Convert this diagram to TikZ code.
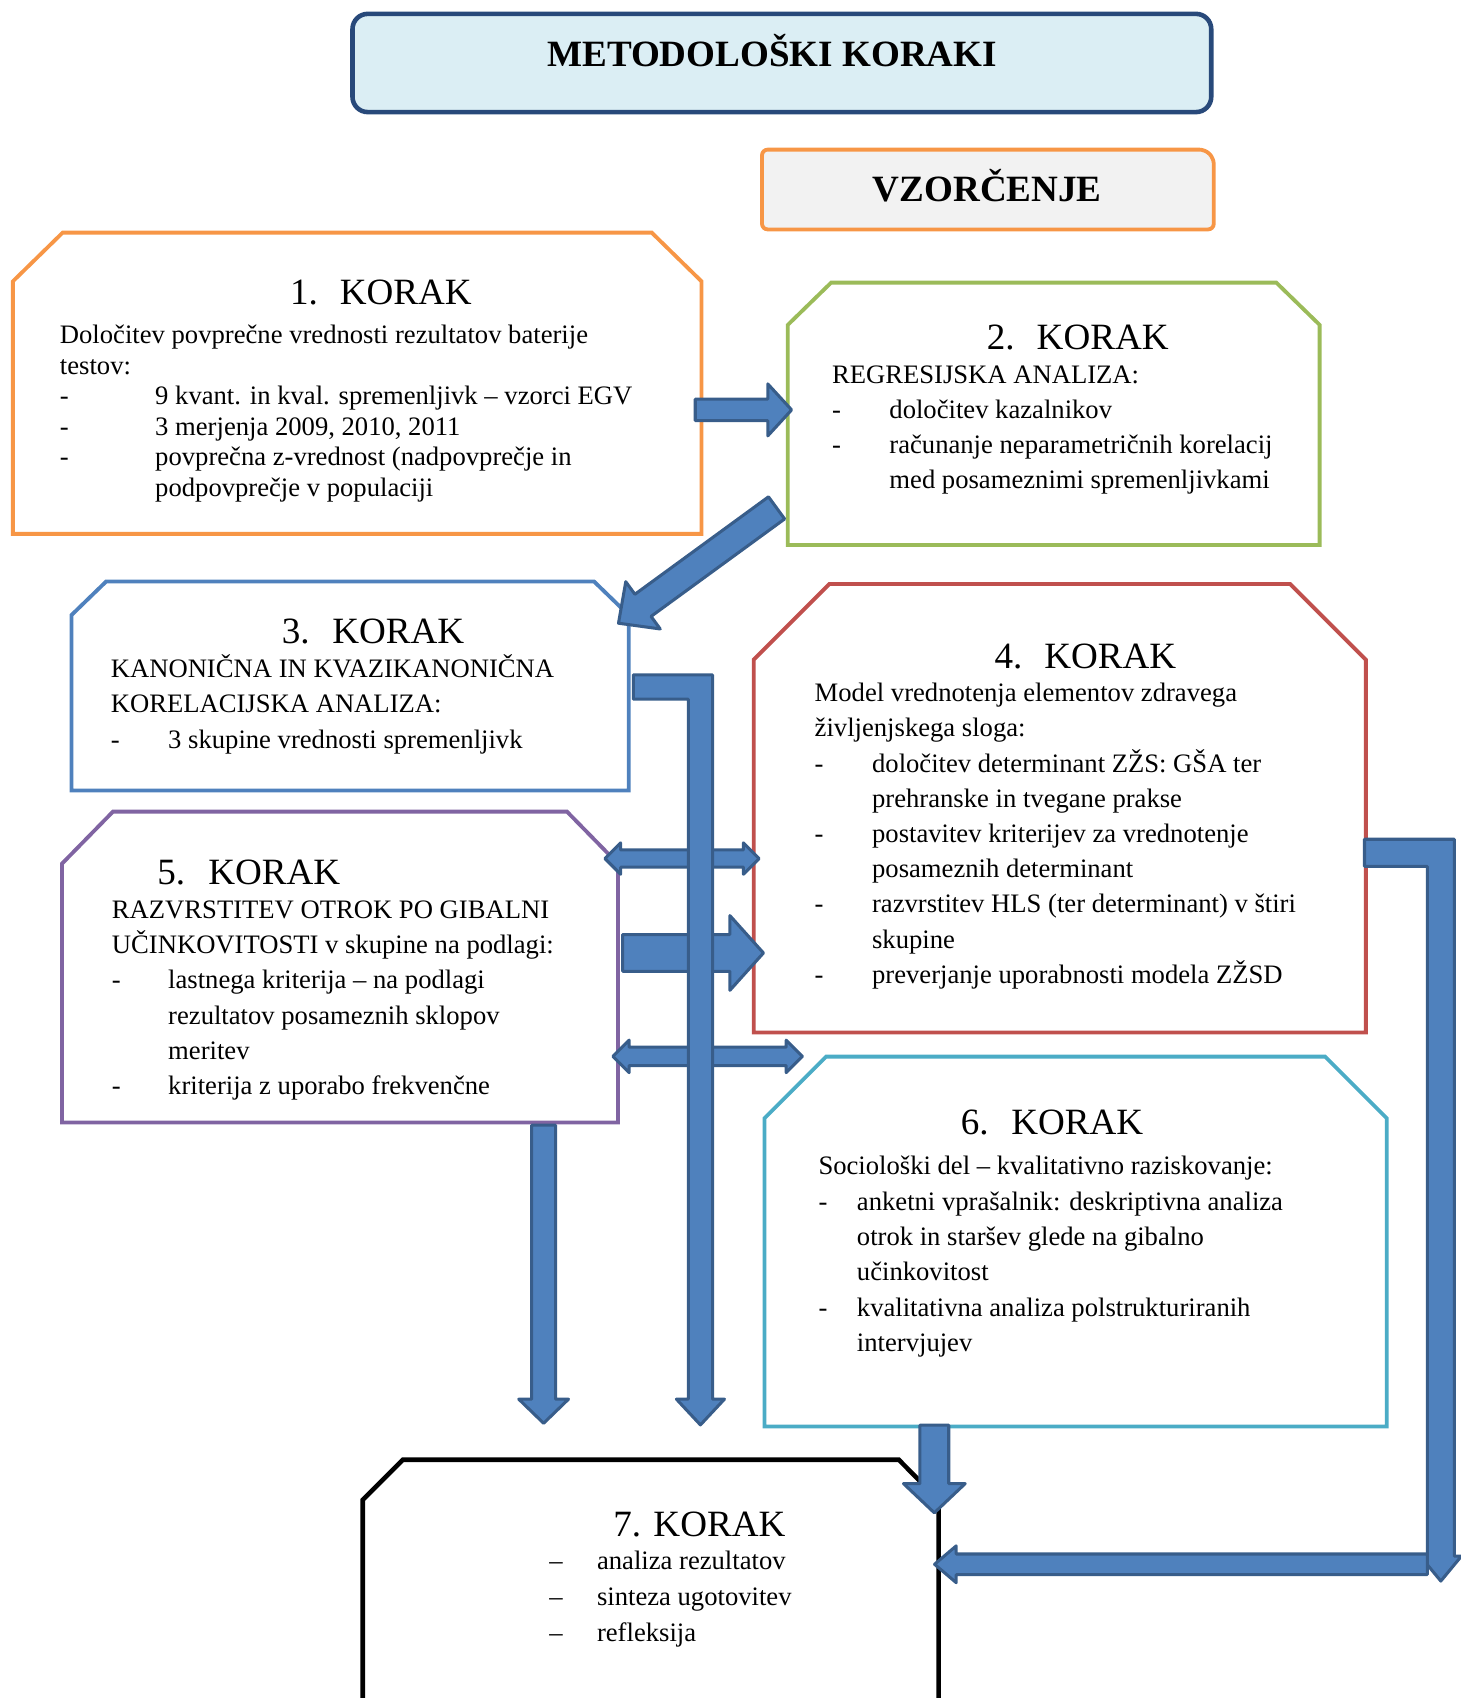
\documentclass[tikz,border=0pt]{standalone}
\usepackage{fontspec}
\setmainfont{Liberation Serif}
\usetikzlibrary{calc,fit}

\definecolor{arrowfill}{HTML}{4F81BD}
\definecolor{arrowline}{HTML}{385D8A}
\definecolor{titleline}{HTML}{28497A}
\definecolor{titlefill}{HTML}{DBEEF4}
\definecolor{orangeline}{HTML}{F79646}
\definecolor{vzfill}{HTML}{F2F2F2}
\definecolor{greenline}{HTML}{9BBB59}
\definecolor{blueline}{HTML}{4F81BD}
\definecolor{redline}{HTML}{C0504D}
\definecolor{purpleline}{HTML}{8064A2}
\definecolor{aqualine}{HTML}{4BACC6}

% one drawing unit = 0.02cm
\newdimen\pxu \pxu=0.02cm
\def\pxpt{0.569055}

% text helpers: rows with fixed line distance, dash items, continuation lines
\newcommand\txtrows[2]{\vtop{\baselineskip=#1\lineskiplimit=-\maxdimen\lineskip=0pt\relax #2}}
\newcommand\txline[1]{\hbox{#1}}
\newcommand\dashitem[2]{\hbox{\makebox[#1\pxu][l]{-}#2}}
\newcommand\contline[2]{\hbox{\hspace*{#1\pxu}#2}}

\tikzset{
  bodytxt/.style={inner sep=0pt, anchor=base west, font=\fontsize{14pt}{18.55pt}\selectfont},
  headtxt/.style={inner sep=0pt, anchor=base west, font=\fontsize{19.5pt}{23pt}\selectfont},
  titletxt/.style={inner sep=0pt, anchor=base, font=\fontsize{19.5pt}{23pt}\selectfont\bfseries},
  boxline/.style={line width=2pt, fill=white, line join=miter},
  blockarrow/.style={fill=arrowfill, draw=arrowline, line width=1.6pt, line join=round},
}

% chamfered step box: name, colour, x1, y1, x2, y2, chamfer dx, chamfer dy
\newcommand\chambox[8]{%
  \coordinate (#1-nw) at (#3,#4);
  \coordinate (#1-se) at (#5,#6);
  \node[fit=(#1-nw)(#1-se), inner sep=0pt] (#1) {};
  \draw[boxline, draw=#2] (#3,#4+#8) -- (#3+#7,#4) -- (#5-#7,#4) -- (#5,#4+#8) -- (#5,#6) -- (#3,#6) -- cycle;
}

% direction and length between two named coordinates
\newdimen\baAx \newdimen\baAy \newdimen\baBx \newdimen\baBy
\newcommand\baprep[5]{%
  \pgfextractx{\baAx}{\pgfpointanchor{#1}{center}}%
  \pgfextracty{\baAy}{\pgfpointanchor{#1}{center}}%
  \pgfextractx{\baBx}{\pgfpointanchor{#2}{center}}%
  \pgfextracty{\baBy}{\pgfpointanchor{#2}{center}}%
  \pgfmathsetmacro\baAng{atan2(\baBy-\baAy,\baBx-\baAx)}%
  \pgfmathsetmacro\baLen{veclen(\baBx-\baAx,\baBy-\baAy)}%
  \pgfmathsetmacro\baW{#3*\pxpt/2}%
  \pgfmathsetmacro\baH{#4*\pxpt/2}%
  \pgfmathsetmacro\baF{#5*\pxpt}%
  \pgfmathsetmacro\baB{\baLen-#5*\pxpt}%
}
% block arrow: from, to, shaft width, head width, head length
\newcommand\blockarrow[5]{%
  \baprep{#1}{#2}{#3}{#4}{#5}%
  \draw[blockarrow, shift={(#1)}, rotate=\baAng]
    (0pt,\baW pt) -- (\baB pt,\baW pt) -- (\baB pt,\baH pt) -- (\baLen pt,0pt)
    -- (\baB pt,-\baH pt) -- (\baB pt,-\baW pt) -- (0pt,-\baW pt) -- cycle;
}
% block arrow with a head at both ends
\newcommand\dblarrow[5]{%
  \baprep{#1}{#2}{#3}{#4}{#5}%
  \draw[blockarrow, shift={(#1)}, rotate=\baAng]
    (0pt,0pt) -- (\baF pt,\baH pt) -- (\baF pt,\baW pt) -- (\baB pt,\baW pt)
    -- (\baB pt,\baH pt) -- (\baLen pt,0pt) -- (\baB pt,-\baH pt) -- (\baB pt,-\baW pt)
    -- (\baF pt,-\baW pt) -- (\baF pt,-\baH pt) -- cycle;
}
% bent block arrow, right then down: start, corner, end, shaft, head width, head length
\newcommand\bentarrow[6]{%
  \draw[blockarrow] ($(#1)+(0,-#4/2)$) -- ($(#2)+(#4/2,-#4/2)$) -- ($(#3)+(#4/2,-#6)$)
    -- ($(#3)+(#5/2,-#6)$) -- (#3) -- ($(#3)+(-#5/2,-#6)$) -- ($(#3)+(-#4/2,-#6)$)
    -- ($(#2)+(-#4/2,#4/2)$) -- ($(#1)+(0,#4/2)$) -- cycle;
}

\begin{document}
\begin{tikzpicture}[x=0.02cm, y=-0.02cm]
\useasboundingbox (0,0) rectangle (1349,1568);
\clip (0,0) rectangle (1349,1568);

% ---------- title ----------
\coordinate (t-nw) at (325.5,12.8);
\coordinate (t-se) at (1118.5,103.5);
\node[fit=(t-nw)(t-se), inner sep=0pt, draw=titleline, fill=titlefill,
      line width=2.4pt, rounded corners=8pt] (title) {};
\node[titletxt] (titletext) at (713,61.6) {METODOLOŠKI KORAKI};

% ---------- sampling ----------
\coordinate (vz-nw) at (704,138.5);
\coordinate (vz-se) at (1120.5,211.5);
\node[fit=(vz-nw)(vz-se), inner sep=0pt] (vz) {};
\draw[line width=2pt, draw=orangeline, fill=vzfill, rounded corners=3pt]
  (vz.north west) -- ($(vz.north east)+(-8,0)$) -- ($(vz.north east)+(0,8)$)
  -- (vz.south east) -- (vz.south west) -- cycle;
\node[titletxt] (vztext) at (911.7,186.2) {VZORČENJE};

% ---------- step boxes ----------
\chambox{k1}{orangeline}{11.9}{214.8}{647.8}{493}{46}{45}
\chambox{k2}{greenline}{727.5}{261}{1218.6}{503.2}{40}{39}
\chambox{k3}{blueline}{66}{537}{580.6}{730}{32}{31}
\chambox{k4}{redline}{696}{539.2}{1261.3}{953.5}{70}{70}
\chambox{k5}{purpleline}{57.3}{749.5}{570.6}{1036.6}{47}{48}
\chambox{k6}{aqualine}{705.9}{975.7}{1280.6}{1317.3}{57}{57}
\coordinate (k7-nw) at (335,1348);
\coordinate (k7-se) at (866.7,1620);
\node[fit=(k7-nw)(k7-se), inner sep=0pt] (k7) {};
\draw[boxline, draw=black, line width=2.4pt]
  (335,1385) -- (372,1348) -- (830,1348) -- (866.7,1385) -- (866.7,1620) -- (335,1620) -- cycle;

% ---------- step texts ----------
\node[headtxt] (k1h) at (267.5,281.6) {\makebox[46\pxu][l]{1.}KORAK};
\node[bodytxt] (k1t) at (55,317.6) {\txtrows{15.99pt}{%
  \txline{Določitev povprečne vrednosti rezultatov baterije}
  \txline{testov:}
  \dashitem{88}{9 kvant. in kval. spremenljivk – vzorci EGV}
  \dashitem{88}{3 merjenja 2009, 2010, 2011}
  \dashitem{88}{povprečna z-vrednost (nadpovprečje in}
  \contline{88}{podpovprečje v populaciji}}};

\node[headtxt] (k2h) at (911,323.2) {\makebox[46\pxu][l]{2.}KORAK};
\node[bodytxt] (k2t) at (768,354) {\txtrows{18.4pt}{%
  \txline{REGRESIJSKA ANALIZA:}
  \dashitem{53}{določitev kazalnikov}
  \dashitem{53}{računanje neparametričnih korelacij}
  \contline{53}{med posameznimi spremenljivkami}}};

\node[headtxt] (k3h) at (260,594.6) {\makebox[46.5\pxu][l]{3.}KORAK};
\node[bodytxt] (k3t) at (102,625.4) {\txtrows{18.6pt}{%
  \txline{KANONIČNA IN KVAZIKANONIČNA}
  \txline{KORELACIJSKA ANALIZA:}
  \dashitem{53}{3 skupine vrednosti spremenljivk}}};

\node[headtxt] (k4h) at (918,617) {\makebox[46\pxu][l]{4.}KORAK};
\node[bodytxt] (k4t) at (752,647.9) {\txtrows{18.5pt}{%
  \txline{Model vrednotenja elementov zdravega}
  \txline{življenjskega sloga:}
  \dashitem{53}{določitev determinant ZŽS: GŠA ter}
  \contline{53}{prehranske in tvegane prakse}
  \dashitem{53}{postavitev kriterijev za vrednotenje}
  \contline{53}{posameznih determinant}
  \dashitem{53}{razvrstitev HLS (ter determinant) v štiri}
  \contline{53}{skupine}
  \dashitem{53}{preverjanje uporabnosti modela ZŽSD}}};

\node[headtxt] (k5h) at (145,817.1) {\makebox[47\pxu][l]{5.}KORAK};
\node[bodytxt] (k5t) at (103,847.9) {\txtrows{18.55pt}{%
  \txline{RAZVRSTITEV OTROK PO GIBALNI}
  \txline{UČINKOVITOSTI v skupine na podlagi:}
  \dashitem{52}{lastnega kriterija – na podlagi}
  \contline{52}{rezultatov posameznih sklopov}
  \contline{52}{meritev}
  \dashitem{52}{kriterija z uporabo frekvenčne}}};

\node[headtxt] (k6h) at (887,1048) {\makebox[46.5\pxu][l]{6.}KORAK};
\node[bodytxt] (k6t) at (755.5,1084.9) {\txtrows{18.55pt}{%
  \txline{Sociološki del – kvalitativno raziskovanje:}
  \dashitem{35.5}{anketni vprašalnik: deskriptivna analiza}
  \contline{35.5}{otrok in staršev glede na gibalno}
  \contline{35.5}{učinkovitost}
  \dashitem{35.5}{kvalitativna analiza polstrukturiranih}
  \contline{35.5}{intervjujev}}};

\node[headtxt] (k7h) at (566,1418.9) {7. KORAK};
\node[bodytxt] (k7t) at (507,1449.6) {\txtrows{18.8pt}{%
  \hbox{\makebox[44\pxu][l]{–}analiza rezultatov}
  \hbox{\makebox[44\pxu][l]{–}sinteza ugotovitev}
  \hbox{\makebox[44\pxu][l]{–}refleksija}}};

% ---------- block arrows ----------
\coordinate (a1s) at (642,378.5);   \coordinate (a1e) at (731,378.5);
\coordinate (b2s) at (717.1,469);   \coordinate (b2e) at (571,575.6);
\coordinate (d1l) at (558.6,792.8); \coordinate (d1r) at (701,792.8);
\coordinate (f5s) at (575,880);     \coordinate (f5e) at (705,880);
\coordinate (d2l) at (566,975.5);   \coordinate (d2r) at (741,975.5);
\coordinate (c3s) at (584.8,634.45);\coordinate (c3c) at (646.8,634.45);
\coordinate (c3e) at (646.8,1315.8);
\coordinate (d5s) at (502,1039);    \coordinate (d5e) at (502,1314.3);
\coordinate (g6s) at (862.8,1316);  \coordinate (g6e) at (862.8,1397);
\coordinate (e4s) at (1260,787.5);  \coordinate (e4c) at (1330.5,787.5);
\coordinate (e4e) at (1330.5,1460);
\coordinate (h4s) at (1318,1444.5); \coordinate (h4e) at (863,1444.5);

\blockarrow{a1s}{a1e}{20}{48}{22}
\blockarrow{b2s}{b2e}{25.3}{54}{28}
\dblarrow{d1l}{d1r}{16}{29}{14.5}
\blockarrow{f5s}{f5e}{34}{69}{31}
\dblarrow{d2l}{d2r}{17}{30}{15}
\bentarrow{c3s}{c3c}{c3e}{22.4}{44.4}{23.8}
\blockarrow{d5s}{d5e}{22}{46}{22.3}
\blockarrow{g6s}{g6e}{26.6}{57}{27}
\bentarrow{e4s}{e4c}{e4e}{25}{38}{23}
\blockarrow{h4s}{h4e}{19}{34}{20}
\end{tikzpicture}
\end{document}
